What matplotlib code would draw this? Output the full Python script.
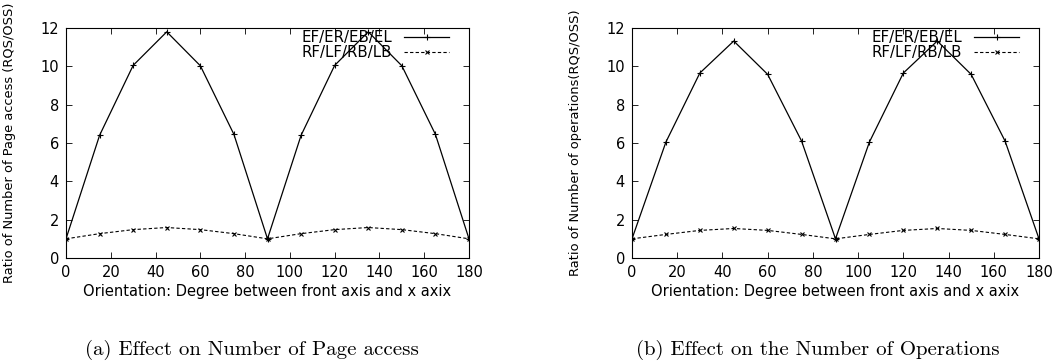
import matplotlib
matplotlib.use('Agg')
import matplotlib.pyplot as plt

# orientation in degrees
angles = [0, 15, 30, 45, 60, 75, 90, 105, 120, 135, 150, 165, 180]

# (a) page access ratio
page_edge = [1.0, 6.4, 10.05, 11.8, 10.03, 6.45, 1.0, 6.4, 10.05, 11.8, 10.03, 6.45, 1.0]
page_corner = [1.0, 1.27, 1.48, 1.59, 1.48, 1.27, 1.0, 1.27, 1.48, 1.59, 1.48, 1.27, 1.0]

# (b) number of operations ratio
ops_edge = [1.0, 6.05, 9.65, 11.32, 9.58, 6.1, 1.0, 6.05, 9.65, 11.32, 9.58, 6.1, 1.0]
ops_corner = [1.0, 1.23, 1.44, 1.54, 1.44, 1.23, 1.0, 1.23, 1.44, 1.54, 1.44, 1.23, 1.0]

series_names = ["EF/ER/EB/EL", "RF/LF/RB/LB"]
ylabels = ["Ratio of Number of Page access (RQS/OSS)",
           "Ratio of Number of operations(RQS/OSS)"]
xlabel = "Orientation: Degree between front axis and x axix"
captions = ["(a) Effect on Number of Page access",
            "(b) Effect on the Number of Operations"]

plt.rcParams['font.family'] = ['DejaVu Sans']

fig = plt.figure(figsize=(10.55, 3.62), dpi=100)
W, H = 1055.0, 362.0

def draw(x0, x1, edge, corner, ylabel, ylab_x):
	ax = fig.add_axes([x0 / W, 1 - 258 / H, (x1 - x0) / W, 230 / H])
	ax.plot(angles, edge, color='black', lw=0.9, marker='+', ms=4, mew=0.8,
		label=series_names[0])
	ax.plot(angles, corner, color='black', lw=0.8, ls=(0, (3, 2)), marker='x',
		ms=3, mew=0.8, label=series_names[1])
	ax.set_xlim(0, 180)
	ax.set_ylim(0, 12)
	ax.set_xticks(range(0, 181, 20))
	ax.set_yticks(range(0, 13, 2))
	ax.tick_params(direction='in', top=True, right=True, length=4, width=0.6,
		labelsize=10.5, pad=5)
	for s in ax.spines.values():
		s.set_linewidth(0.8)
	ax.set_xlabel(xlabel, fontsize=10.5, labelpad=3)
	ax.set_ylabel(ylabel, fontsize=9.4)
	ax.yaxis.set_label_coords((ylab_x - x0) / (x1 - x0), 0.5)
	w = x1 - x0
	ax.legend(loc='upper right', frameon=False, markerfirst=False,
		fontsize=10.8, handlelength=3.0, handletextpad=0.8,
		labelspacing=0.0, borderaxespad=0, borderpad=0,
		bbox_to_anchor=((w - 20) / w, 1 - 2 / 230.0))
	return ax

ax1 = draw(66, 469, page_edge, page_corner, ylabels[0], 16)
ax2 = draw(632, 1039, ops_edge, ops_corner, ylabels[1], 582)

fig.text(252 / W, 1 - 350 / H, captions[0], family='cmr10', fontsize=15,
	ha='center', va='center')
fig.text(818 / W, 1 - 350 / H, captions[1], family='cmr10', fontsize=15,
	ha='center', va='center')

fig.savefig("out.png", dpi=100)
